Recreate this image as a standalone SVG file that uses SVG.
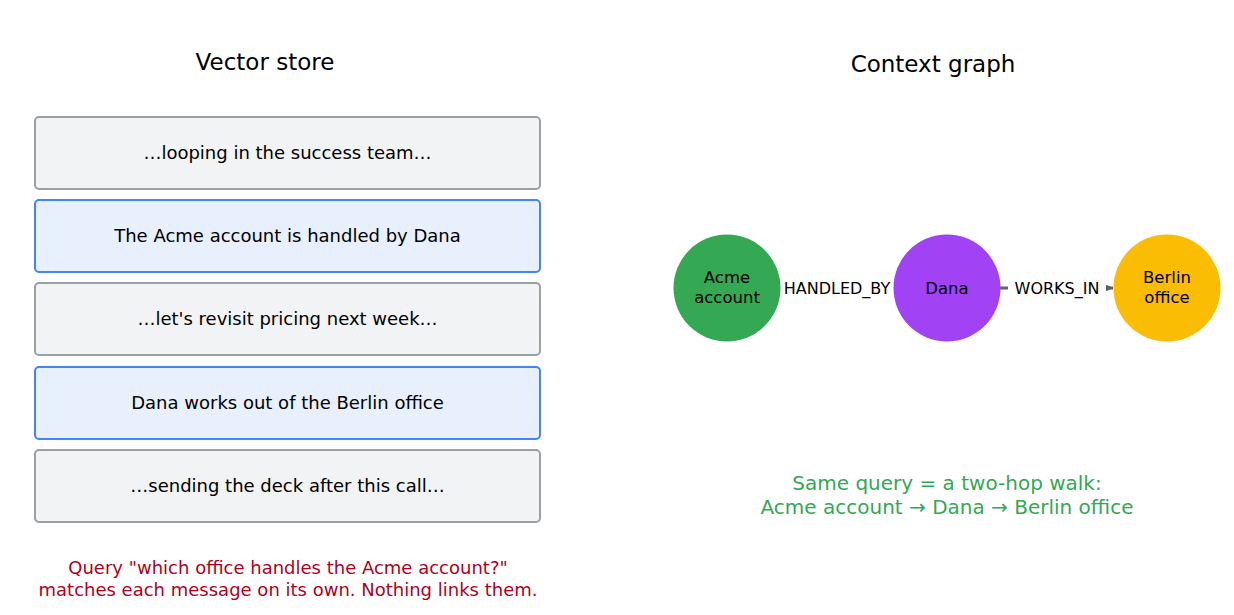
<svg xmlns="http://www.w3.org/2000/svg" width="1234" height="615" viewBox="0 0 1234 615">
<defs>
<style>
text{font-family:"DejaVu Sans","Liberation Sans",sans-serif;text-anchor:middle;}
.title{font-size:23px;fill:#000;}
.msg{font-size:18px;fill:#000;}
.gray{fill:#f1f3f4;stroke:#9aa0a6;stroke-width:2;}
.blue{fill:#e8f0fe;stroke:#4285f4;stroke-width:2;}
.node{font-size:16.5px;fill:#000;}
.edge{stroke:#5f6368;stroke-width:3;fill:none;}
.elabel{font-size:16px;fill:#000;}
.red{font-size:18px;fill:#b00020;}
.green{font-size:20px;fill:#34a853;}
</style>
<marker id="arr" viewBox="0 0 10 10" refX="10" refY="5" markerWidth="2.3" markerHeight="2.3" orient="auto"><path d="M0,0 L10,5 L0,10 z" fill="#5f6368"/></marker>
</defs>
<rect width="1234" height="615" fill="#fff"/>
<text class="title" x="265" y="70">Vector store</text>
<text class="title" x="933" y="72">Context graph</text>
<g id="msg1"><rect class="gray" x="35" y="117" width="505" height="72" rx="4"/><text class="msg" x="287.5" y="159">…looping in the success team…</text></g>
<g id="msg2"><rect class="blue" x="35" y="200" width="505" height="72" rx="4"/><text class="msg" x="287.5" y="242">The Acme account is handled by Dana</text></g>
<g id="msg3"><rect class="gray" x="35" y="283" width="505" height="72" rx="4"/><text class="msg" x="287.5" y="325">…let's revisit pricing next week…</text></g>
<g id="msg4"><rect class="blue" x="35" y="367" width="505" height="72" rx="4"/><text class="msg" x="287.5" y="409">Dana works out of the Berlin office</text></g>
<g id="msg5"><rect class="gray" x="35" y="450" width="505" height="72" rx="4"/><text class="msg" x="287.5" y="492">…sending the deck after this call…</text></g>
<g id="note-left"><text class="red" x="288" y="574">Query "which office handles the Acme account?"</text><text class="red" x="288" y="596">matches each message on its own. Nothing links them.</text></g>
<g id="connectors">
<line class="edge" x1="780" y1="288" x2="893" y2="288" marker-end="url(#arr)"/>
<rect x="779" y="276" width="117" height="24" fill="#fff"/>
<text class="elabel" x="837" y="294">HANDLED_BY</text>
<line class="edge" x1="1000" y1="288" x2="1113" y2="288" marker-end="url(#arr)"/>
<rect x="1008" y="276" width="98" height="24" fill="#fff"/>
<text class="elabel" x="1057" y="294">WORKS_IN</text>
</g>
<g id="acme"><circle cx="727" cy="288" r="53.5" fill="#34a853"/><text class="node" x="727" y="283">Acme</text><text class="node" x="727" y="303">account</text></g>
<g id="dana"><circle cx="947" cy="288" r="53.5" fill="#a142f4"/><text class="node" x="947" y="294">Dana</text></g>
<g id="berlin"><circle cx="1167" cy="288" r="53.5" fill="#fbbc04"/><text class="node" x="1167" y="283">Berlin</text><text class="node" x="1167" y="303">office</text></g>
<g id="note-right"><text class="green" x="947" y="490">Same query = a two-hop walk:</text><text class="green" x="947" y="514">Acme account → Dana → Berlin office</text></g>
</svg>
